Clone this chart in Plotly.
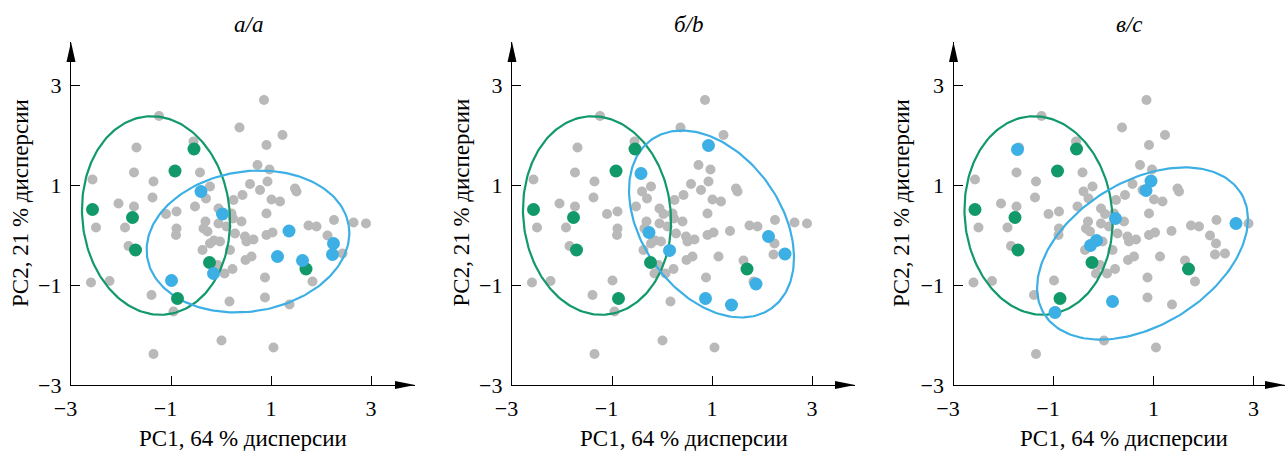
import numpy as np
import plotly.graph_objects as go

# ---------------- data ----------------
# all samples (gray)
gray_x = [0.86, -1.24, 0.37, 1.23, -1.69, 0.91, -0.55, -1.74, -0.42, 0.73, 0.97, -2.57, -1.35, -0.22,
          0.58, 0.78, 0.93, 1.48, 1.51, -1.37, -2.05, -1.74, -0.52, -0.30, 0.25, 0.43, 1.01, 1.18,
          -1.10, -0.89, -0.05, 0.21, 0.91, -2.50, -1.92, -0.89, -0.90, -0.31, -0.05, 0.11, 0.41, -0.35,
          -0.27, 0.28, 0.48, 0.51, 0.65, 0.91, 1.03, 1.75, 1.91, 2.26, 2.65, 2.90, 2.13, -1.85, -0.22,
          -0.02, -0.37, 0.18, 0.49, 0.61, 2.43, -0.07, 0.23, 0.07, -2.60, -2.23, 0.88, 1.83, -1.39,
          0.88, -0.95, 0.17, 1.37, 0.01, 1.05, -1.35,
          -0.40, 0.03, 1.36, 2.25, 1.13, 1.63, 2.23, -0.15, -0.99, 0.24, -0.14]
gray_y = [2.70, 2.38, 2.15, 2.00, 1.75, 1.80, 1.87, 1.25, 1.25, 1.40, 1.31, 1.11, 1.07, 0.97,
          1.02, 0.90, 1.07, 0.93, 0.87, 0.75, 0.63, 0.57, 0.57, 0.73, 0.70, 0.80, 0.71, 0.67,
          0.42, 0.47, 0.53, 0.43, 0.43, 0.15, 0.15, 0.13, 0.00, 0.27, 0.23, 0.17, 0.27, 0.13,
          0.07, 0.03, -0.03, -0.13, -0.09, 0.00, 0.05, 0.19, 0.17, 0.30, 0.25, 0.23, -0.01, -0.22, -0.17,
          -0.13, -0.30, -0.30, -0.50, -0.43, -0.37, -0.60, -0.68, -0.77, -0.95, -0.92, -0.85, -0.93, -1.20,
          -1.25, -1.53, -1.33, -1.39, -2.11, -2.25, -2.38,
          0.87, 0.42, 0.08, -0.17, -0.43, -0.51, -0.39, -0.77, -0.91, 0.33, -0.11]

# highlighted group 1 (green) - same in all panels
green_x = [-0.54, -0.92, -2.57, -1.77, -1.71, -0.23, -0.87, 1.70]
green_y = [1.72, 1.28, 0.51, 0.35, -0.30, -0.55, -1.27, -0.68]

# highlighted group 2 (blue) - per panel
blue_a_x = [-0.40, 0.03, 1.36, 2.25, 1.13, 1.63, 2.23, -0.15, -0.99]
blue_a_y = [0.87, 0.42, 0.08, -0.17, -0.43, -0.51, -0.39, -0.77, -0.91]
blue_b_x = [0.93, -0.42, -0.26, 0.15, 2.13, 2.46, 1.88, 0.87, 1.39]
blue_b_y = [1.79, 1.23, 0.05, -0.31, -0.03, -0.38, -0.98, -1.27, -1.40]
blue_c_x = [-1.72, 0.95, 0.85, 0.24, 2.65, -0.14, -0.26, 0.18, -0.97]
blue_c_y = [1.71, 1.08, 0.89, 0.33, 0.23, -0.11, -0.21, -1.33, -1.55]

# confidence ellipses: center x, center y, semi-major, semi-minor, angle (deg)
green_ell = [-1.30, 0.39, 1.99, 1.475, 95.6]
blue_ell_a = [0.54, -0.13, 2.04, 1.40, 9.0]
blue_ell_b = [0.99, 0.22, 2.07, 1.39, -54.6]
blue_ell_c = [0.78, -0.37, 2.31, 1.44, 31.5]

panel_titles = ["<i>а/a</i>", "<i>б/b</i>", "<i>в/c</i>"]
x_title = "PC1, 64 % дисперсии"
y_title = "PC2, 21 % дисперсии"
tick_vals = [-3, -1, 1, 3]
x_tick_text = ["−3\u2002", "−1\u2002", "1", "3"]
y_tick_text = ["−3", "−1", "1", "3"]

# ---------------- style ----------------
W, H = 1285, 451
GRAY = "#b9b9b9"
GREEN = "#12996a"
BLUE = "#3cafe4"
FONT = "Liberation Serif"
PPU = 50.0  # pixels per unit
panel_x0 = [71.0, 512.0, 953.5]
panel_xend = [415.0, 855.0, 1285.0]
y_top_px, y_bot_px = 42.0, 385.0


def ellipse(p, n=200):
    cx, cy, a, b, ang = p
    t = np.linspace(0, 2 * np.pi, n)
    th = np.deg2rad(ang)
    x = cx + a * np.cos(t) * np.cos(th) - b * np.sin(t) * np.sin(th)
    y = cy + a * np.cos(t) * np.sin(th) + b * np.sin(t) * np.cos(th)
    return x, y


fig = go.Figure()
blues = [(blue_a_x, blue_a_y, blue_ell_a), (blue_b_x, blue_b_y, blue_ell_b), (blue_c_x, blue_c_y, blue_ell_c)]
shapes = []
annotations = []
for i in range(3):
    xa = "x" if i == 0 else f"x{i+1}"
    ya = "y" if i == 0 else f"y{i+1}"
    bx, by, bell = blues[i]
    fig.add_trace(go.Scatter(x=gray_x, y=gray_y, mode="markers", xaxis=xa, yaxis=ya,
                             marker=dict(size=10, color=GRAY), showlegend=False, hoverinfo="skip"))
    ex, ey = ellipse(green_ell)
    fig.add_trace(go.Scatter(x=ex, y=ey, mode="lines", xaxis=xa, yaxis=ya,
                             line=dict(color=GREEN, width=2.2), showlegend=False, hoverinfo="skip"))
    ex, ey = ellipse(bell)
    fig.add_trace(go.Scatter(x=ex, y=ey, mode="lines", xaxis=xa, yaxis=ya,
                             line=dict(color=BLUE, width=2.2), showlegend=False, hoverinfo="skip"))
    fig.add_trace(go.Scatter(x=green_x, y=green_y, mode="markers", xaxis=xa, yaxis=ya,
                             marker=dict(size=13, color=GREEN), showlegend=False))
    fig.add_trace(go.Scatter(x=bx, y=by, mode="markers", xaxis=xa, yaxis=ya,
                             marker=dict(size=13, color=BLUE), showlegend=False))

    x0 = panel_x0[i]
    xend = panel_xend[i]
    xmax = (xend - x0) / PPU - 3
    ymax = (y_bot_px - y_top_px) / PPU - 3
    common = dict(showgrid=False, zeroline=False, showline=True, linecolor="black", linewidth=1.3,
                  ticks="inside", ticklen=9, tickwidth=1.2, tickcolor="black",
                  tickvals=tick_vals, tickfont=dict(family=FONT, size=22, color="black"),
                  fixedrange=True, automargin=False)
    fig.update_layout(**{
        ("xaxis" if i == 0 else f"xaxis{i+1}"): dict(
            domain=[x0 / W, xend / W], range=[-3, xmax], anchor=ya,
            ticktext=x_tick_text, ticklabelstandoff=3, **common),
        ("yaxis" if i == 0 else f"yaxis{i+1}"): dict(
            domain=[1 - y_bot_px / H, 1 - y_top_px / H], range=[-3, ymax], anchor=xa,
            ticktext=y_tick_text, ticklabelstandoff=4, **common),
    })
    # arrowheads
    tipx, tipy = x0, y_top_px
    shapes.append(dict(type="path", xref="paper", yref="paper", line=dict(width=0), fillcolor="black",
                       path=f"M {tipx/W},{1-tipy/H} L {(tipx-4.5)/W},{1-(tipy+20)/H} L {(tipx+4.5)/W},{1-(tipy+20)/H} Z"))
    tx = min(xend, W)
    shapes.append(dict(type="path", xref="paper", yref="paper", line=dict(width=0), fillcolor="black",
                       path=f"M {tx/W},{1-y_bot_px/H} L {(tx-20)/W},{1-(y_bot_px-4)/H} L {(tx-20)/W},{1-(y_bot_px+4)/H} Z"))
    off = 440.5 * i
    annotations.append(dict(text=panel_titles[i], xref="paper", yref="paper", x=(248 + off) / W, y=1 - 25 / H,
                            xanchor="center", yanchor="middle",
                            showarrow=False, font=dict(family=FONT, size=23, color="black")))
    annotations.append(dict(text=x_title, xref="paper", yref="paper", x=(243 + off) / W, y=1 - 438 / H,
                            xanchor="center", yanchor="middle",
                            showarrow=False, font=dict(family=FONT, size=23, color="black")))
    annotations.append(dict(text=y_title, xref="paper", yref="paper", x=(20 + off) / W, y=1 - 203 / H,
                            xanchor="center", yanchor="middle",
                            showarrow=False, textangle=-90, font=dict(family=FONT, size=23, color="black")))

fig.update_layout(width=W, height=H, autosize=False, margin=dict(l=0, r=0, t=0, b=0),
                  plot_bgcolor="white", paper_bgcolor="white", shapes=shapes, annotations=annotations,
                  showlegend=False)
fig.write_html("out.html", config={"displayModeBar": False},
               post_script="document.body.style.margin='0';document.body.style.overflow='hidden';")
